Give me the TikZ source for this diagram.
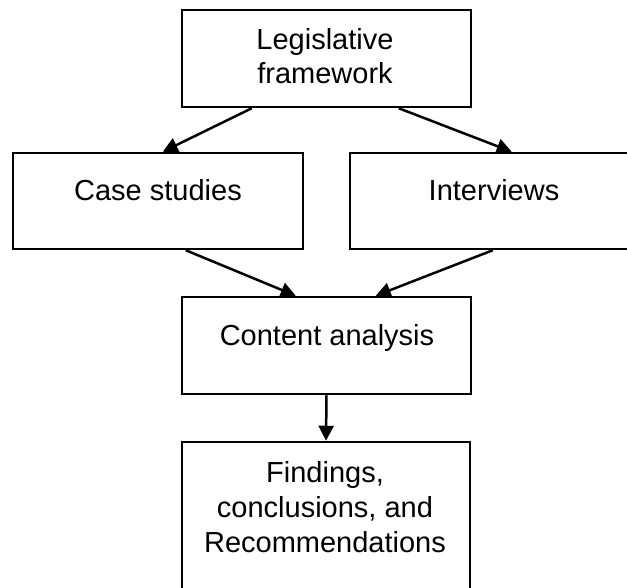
\documentclass[tikz,border=0pt]{standalone}
\usepackage{fontspec}
\setmainfont{Liberation Sans}
\usetikzlibrary{arrows.meta,calc}

\tikzset{
  stagebox/.style={draw=black, line width=2.5pt, fill=white, inner sep=0pt},
  stagetext/.style={anchor=base, align=center, inner sep=0pt,
    font=\fontsize{29}{35}\selectfont},
  flow/.style={line width=2.5pt, -{Triangle[length=15pt,width=15pt]}},
}

\begin{document}
\begin{tikzpicture}[x=1pt, y=-1pt]
  \useasboundingbox (0,0) rectangle (627,588);
  \clip (0,0) rectangle (627,588);

  % boxes (y grows downwards)
  \node[stagebox, minimum width=289pt, minimum height=97pt] (legal) at (326.5,58.5) {};
  \node[stagebox, minimum width=290pt, minimum height=96pt] (cases) at (158,201) {};
  \node[stagebox, minimum width=290pt, minimum height=96pt] (inter) at (495,201) {};
  \node[stagebox, minimum width=289pt, minimum height=97pt] (content) at (326.5,345.5) {};
  \node[stagebox, minimum width=288pt, minimum height=156pt] (result) at (326,520) {};

  % labels
  \node[stagetext] (legalA) at (325,50) {Legislative};
  \node[stagetext] (legalB) at (325,84) {framework};
  \node[stagetext] (casesT) at (158,201) {Case studies};
  \node[stagetext] (interT) at (494,201) {Interviews};
  \node[stagetext] (contentT) at (327,345) {Content analysis};
  \node[stagetext] (resultA) at (325,482) {Findings,};
  \node[stagetext] (resultB) at (325,517) {conclusions, and};
  \node[stagetext] (resultC) at (325,552) {Recommendations};

  % connector end points on the box edges
  \coordinate (legalL) at ($(legal.south west)+(71,0)$);
  \coordinate (legalR) at ($(legal.south west)+(218,0)$);
  \coordinate (casesIn) at ($(cases.north west)+(151,0)$);
  \coordinate (interIn) at ($(inter.north west)+(163,0)$);
  \coordinate (casesOut) at ($(cases.south west)+(174,0)$);
  \coordinate (interOut) at ($(inter.south west)+(144,0)$);
  \coordinate (contentL) at ($(content.north west)+(115,0)$);
  \coordinate (contentR) at ($(content.north west)+(195,0)$);

  \draw[flow] (legalL) -- (casesIn);
  \draw[flow] (legalR) -- (interIn);
  \draw[flow] (casesOut) -- (contentL);
  \draw[flow] (interOut) -- (contentR);
  \draw[flow] (content.south) -- (result.north);
\end{tikzpicture}
\end{document}
